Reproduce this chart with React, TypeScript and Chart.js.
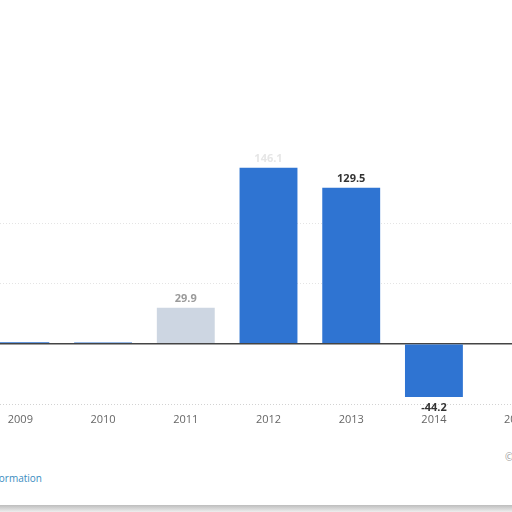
import { useEffect, useRef } from 'react';
import { Chart, registerables } from 'chart.js';

Chart.register(...registerables);

const years = ['2009', '2010', '2011', '2012', '2013', '2014', '2015'];
const values = [1.2, 1.0, 29.9, 146.1, 129.5, -44.2, 0];
const valueLabels = ['', '', '29.9', '146.1', '129.5', '-44.2', ''];
const barColors = ['#2f74d2', '#2f74d2', '#cdd6e2', '#2f74d2', '#2f74d2', '#2f74d2', '#2f74d2'];
const labelColors = ['#333', '#333', '#9a9a9a', '#e6e6e6', '#333', '#333', '#333'];

export default function App() {
  const canvasRef = useRef<HTMLCanvasElement | null>(null);

  useEffect(() => {
    if (!canvasRef.current) return;

    // value labels above / below the bars
    const barLabels = {
      id: 'barLabels',
      afterDatasetsDraw(chart: Chart) {
        const ctx = chart.ctx;
        const meta = chart.getDatasetMeta(0);
        ctx.save();
        ctx.font = 'bold 11px "Open Sans", sans-serif';
        ctx.textAlign = 'center';
        meta.data.forEach((bar, i) => {
          const text = valueLabels[i];
          if (!text) return;
          const neg = values[i] < 0;
          ctx.fillStyle = labelColors[i];
          ctx.textBaseline = neg ? 'top' : 'bottom';
          ctx.fillText(text, bar.x, neg ? bar.y + 5 : bar.y - 3);
        });
        ctx.restore();
      },
    };

    const chart = new Chart(canvasRef.current, {
      type: 'bar',
      data: {
        labels: years,
        datasets: [
          {
            data: values,
            backgroundColor: barColors,
            categoryPercentage: 0.7,
            barPercentage: 1,
          },
        ],
      },
      options: {
        animation: false,
        responsive: false,
        layout: { padding: { top: 163, left: 0, right: 0, bottom: 0 } },
        plugins: { legend: { display: false }, tooltip: { enabled: false } },
        scales: {
          x: {
            grid: { display: false },
            border: { display: false },
            ticks: {
              color: '#666',
              font: { size: 11, family: '"Open Sans", sans-serif' },
              padding: 1,
            },
            afterFit: (scale: any) => {
              scale.height = 30;
            },
          },
          y: {
            min: -50,
            max: 150,
            ticks: { display: false, stepSize: 50 },
            border: {
              display: false,
              dash: (ctx: any) => (ctx.tick && ctx.tick.value === 0 ? [] : [1, 2]),
            },
            grid: {
              color: (ctx: any) => {
                const v = ctx.tick ? ctx.tick.value : null;
                if (v === 0) return '#444';
                if (v === 150) return 'rgba(0,0,0,0)';
                if (v === -50) return '#d2d2d2';
                return '#e4e4e4';
              },
              lineWidth: (ctx: any) => (ctx.tick && ctx.tick.value === 0 ? 1.5 : 1),
              drawTicks: false,
            },
            afterFit: (scale: any) => {
              scale.width = 0;
            },
          },
        },
      },
      plugins: [barLabels],
    });

    return () => chart.destroy();
  }, []);

  return (
    <div
      style={{
        position: 'fixed',
        left: 0,
        top: 0,
        width: 512,
        height: 512,
        overflow: 'hidden',
        background: '#fff',
        fontFamily: '"Open Sans", sans-serif',
      }}
    >
      <canvas
        ref={canvasRef}
        width={579}
        height={434}
        style={{ position: 'absolute', left: -21, top: 0, width: 579, height: 434 }}
      />
      <div
        style={{
          position: 'absolute',
          right: 470,
          top: 471,
          fontSize: 10,
          color: '#3a8cc0',
          whiteSpace: 'nowrap',
        }}
      >
        Additional Information
      </div>
      <div
        style={{
          position: 'absolute',
          left: 505,
          top: 450,
          fontSize: 10,
          color: '#999',
          whiteSpace: 'nowrap',
        }}
      >
        © Statista 2021
      </div>
      <div
        style={{
          position: 'absolute',
          left: 0,
          top: 505,
          width: 512,
          height: 7,
          background: 'linear-gradient(#bdbdbd, #eeeeee)',
        }}
      />
    </div>
  );
}
